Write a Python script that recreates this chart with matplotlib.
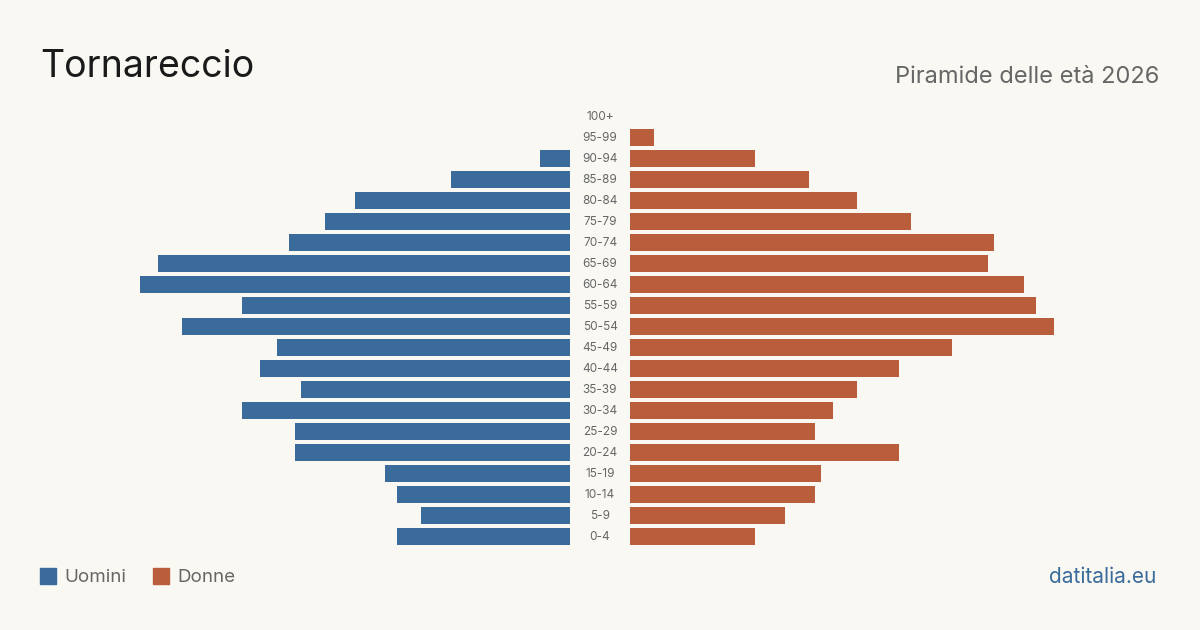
import matplotlib
matplotlib.use("Agg")
import matplotlib.pyplot as plt
from matplotlib.patches import Rectangle

plt.rcParams['font.family'] = ['Inter', 'DejaVu Sans']

age_groups = ["0-4", "5-9", "10-14", "15-19", "20-24", "25-29", "30-34", "35-39",
              "40-44", "45-49", "50-54", "55-59", "60-64", "65-69", "70-74", "75-79",
              "80-84", "85-89", "90-94", "95-99", "100+"]
men = [29, 25, 29, 31, 46, 46, 55, 45, 52, 49, 65, 55, 72, 69, 47, 41, 36, 20, 5, 0, 0]
women = [21, 26, 31, 32, 45, 31, 34, 38, 45, 54, 71, 68, 66, 60, 61, 47, 38, 30, 21, 4, 0]

title = "Tornareccio"
subtitle = "Piramide delle età 2026"
legend_labels = ["Uomini", "Donne"]
source = "datitalia.eu"

BG = "#f9f8f3"
BLUE = "#3b6b9b"
ORANGE = "#b95d3d"
GREY = "#666666"

W, H = 1200, 630
fig = plt.figure(figsize=(12, 6.3), dpi=100, facecolor=BG)

scale = 5.97  # px per unit
ax_w_px = 470
xmax = ax_w_px / scale
row = 21.0
y_top = 116 - row / 2
y_bot = 536 + row / 2
bottom = (H - y_bot) / H
height = (y_bot - y_top) / H

axL = fig.add_axes([(570 - ax_w_px) / W, bottom, ax_w_px / W, height])
axR = fig.add_axes([630 / W, bottom, ax_w_px / W, height])
ys = list(range(len(age_groups)))
axL.barh(ys, men, height=17 / 21, color=BLUE)
axR.barh(ys, women, height=17 / 21, color=ORANGE)
axL.set_xlim(xmax, 0)
axR.set_xlim(0, xmax)
for ax in (axL, axR):
    ax.set_ylim(-0.5, len(age_groups) - 0.5)
    ax.set_facecolor("none")
    ax.axis("off")

for i, lab in enumerate(age_groups):
    yf = bottom + height * (i + 0.5) / len(age_groups) - 1.0 / H
    fig.text(600 / W, yf, lab, ha="center", va="center", fontsize=8.5, color=GREY)

fig.text(40 / W, 1 - 67 / H, title, ha="left", va="center", fontsize=27, color="#1a1a1a")
fig.text(1159 / W, 1 - 77 / H, subtitle, ha="right", va="center", fontsize=17, color=GREY)

# legend
for x0, lab, col in [(40, legend_labels[0], BLUE), (153, legend_labels[1], ORANGE)]:
    fig.patches.append(Rectangle((x0 / W, 1 - 584 / H), 16 / W, 16 / H,
                                 transform=fig.transFigure, color=col))
    fig.text((x0 + 24) / W, 1 - 577 / H, lab, ha="left", va="center", fontsize=13.5, color=GREY)

fig.text(1156 / W, 1 - 577 / H, source, ha="right", va="center", fontsize=15, color=BLUE)

fig.savefig("out.png", dpi=100, facecolor=BG)
